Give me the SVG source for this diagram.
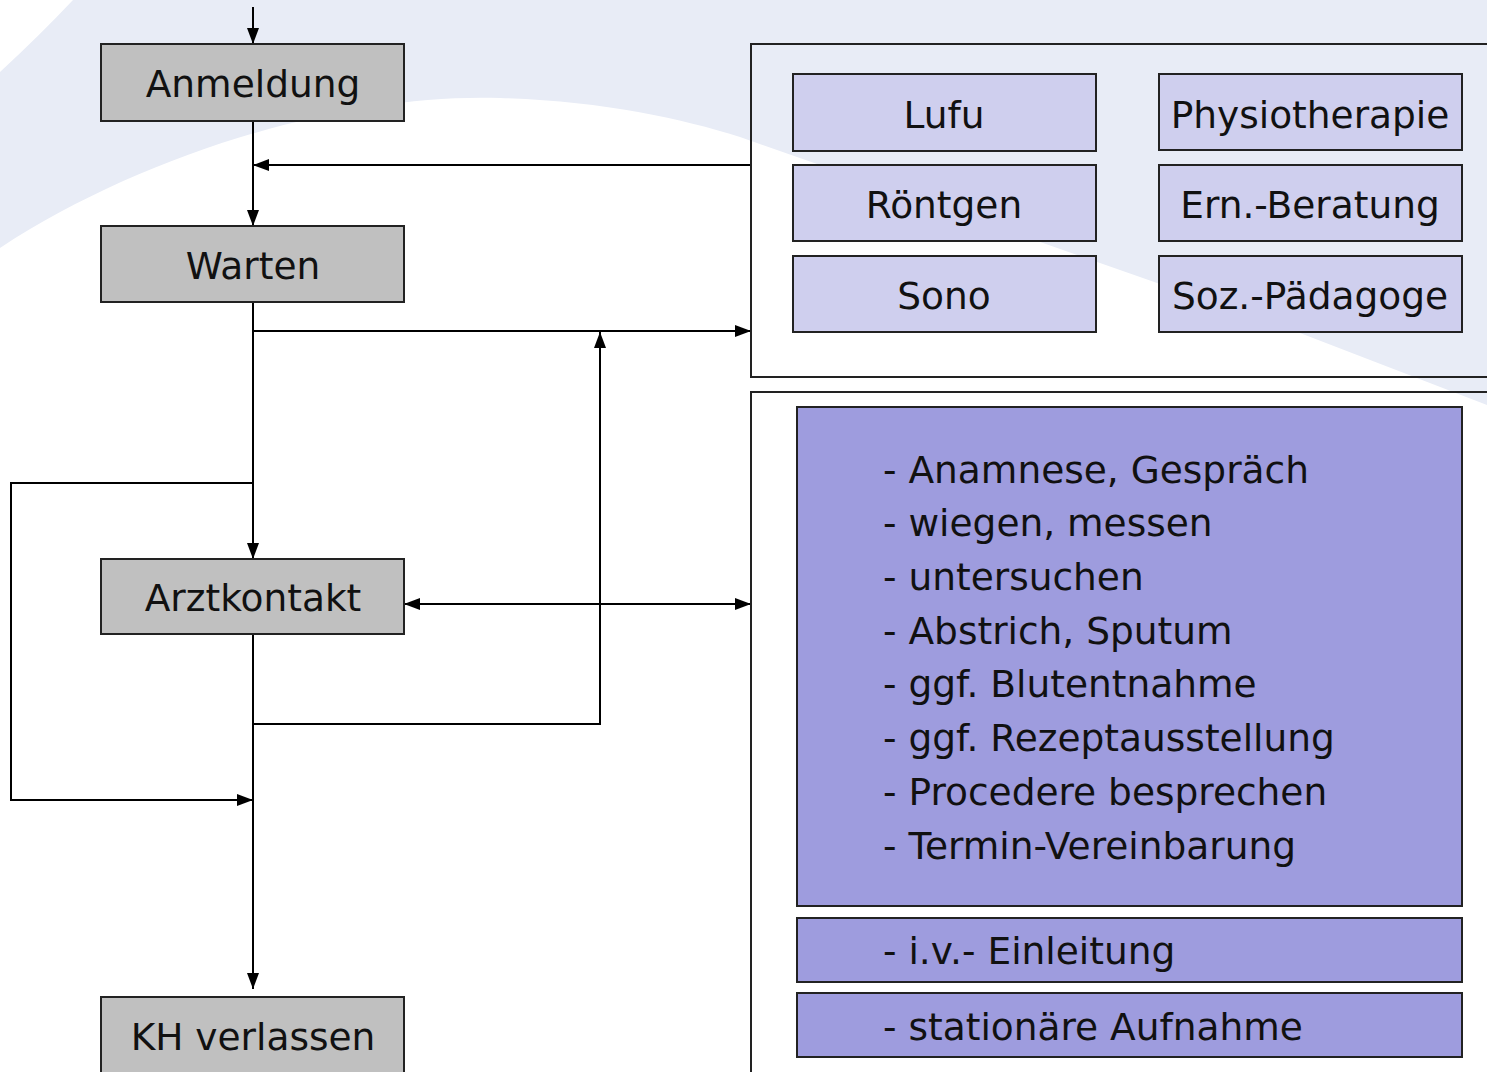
<svg xmlns="http://www.w3.org/2000/svg" width="1487" height="1072" viewBox="0 0 1487 1072">
<defs>
<style>
.t{font-family:"DejaVu Sans","Verdana",sans-serif;font-size:37.5px;fill:#111}
.c{text-anchor:middle}
.g{fill:#c0c0c0;stroke:#222;stroke-width:2}
.l{fill:#cfcfee;stroke:#222;stroke-width:2}
.d{fill:#9e9cde;stroke:#222;stroke-width:2}
.o{fill:none;stroke:#222;stroke-width:2}
.w{fill:none;stroke:#000;stroke-width:2}
</style>
<marker id="ah" viewBox="0 0 16 12" refX="16" refY="6" markerWidth="16" markerHeight="12" markerUnits="userSpaceOnUse" orient="auto-start-reverse">
<path d="M0,0 L16,6 L0,12 Z" fill="#000"/>
</marker>
</defs>
<rect width="1487" height="1072" fill="#fff"/>
<path d="M73,0 L1487,0 L1487,405 L1300,333 L740,137 C680,118 600,101 500,98 C350,93 150,150 0,248 L0,72 Q40,35 73,0 Z" fill="#e8ecf6"/>

<g id="connectors">
<path class="w" d="M253,7 V44" marker-end="url(#ah)"/>
<path class="w" d="M253,121 V226" marker-end="url(#ah)"/>
<path class="w" d="M751,165 H253" marker-end="url(#ah)"/>
<path class="w" d="M253,302 V559" marker-end="url(#ah)"/>
<path class="w" d="M253,331 H751" marker-end="url(#ah)"/>
<path class="w" d="M253,724 H600 V332" marker-end="url(#ah)"/>
<path class="w" d="M253,483 H11 V800 H253" marker-end="url(#ah)"/>
<path class="w" d="M404,604 H751" marker-start="url(#ah)" marker-end="url(#ah)"/>
<path class="w" d="M253,634 V989" marker-end="url(#ah)"/>
</g>

<g id="anmeldung"><rect class="g" x="101" y="44" width="303" height="77"/><text class="t c" x="253" y="97">Anmeldung</text></g>
<g id="warten"><rect class="g" x="101" y="226" width="303" height="76"/><text class="t c" x="253" y="279">Warten</text></g>
<g id="arztkontakt"><rect class="g" x="101" y="559" width="303" height="75"/><text class="t c" x="253" y="611">Arztkontakt</text></g>
<g id="kh-verlassen"><rect class="g" x="101" y="997" width="303" height="90"/><text class="t c" x="253" y="1050">KH verlassen</text></g>

<g id="services">
<rect class="o" x="751" y="44" width="760" height="333"/>
<g id="lufu"><rect class="l" x="793" y="74" width="303" height="77"/><text class="t c" x="944" y="128">Lufu</text></g>
<g id="physio"><rect class="l" x="1159" y="74" width="303" height="76"/><text class="t c" x="1310" y="128">Physiotherapie</text></g>
<g id="roentgen"><rect class="l" x="793" y="165" width="303" height="76"/><text class="t c" x="944" y="218">Röntgen</text></g>
<g id="ern"><rect class="l" x="1159" y="165" width="303" height="76"/><text class="t c" x="1310" y="218">Ern.-Beratung</text></g>
<g id="sono"><rect class="l" x="793" y="256" width="303" height="76"/><text class="t c" x="944" y="309">Sono</text></g>
<g id="soz"><rect class="l" x="1159" y="256" width="303" height="76"/><text class="t c" x="1310" y="309">Soz.-Pädagoge</text></g>
</g>

<g id="arzt-tasks">
<rect class="o" x="751" y="392" width="760" height="700"/>
<g id="list"><rect class="d" x="797" y="407" width="665" height="499"/>
<text class="t" x="883" y="483">- Anamnese, Gespräch</text>
<text class="t" x="883" y="536">- wiegen, messen</text>
<text class="t" x="883" y="590">- untersuchen</text>
<text class="t" x="883" y="644">- Abstrich, Sputum</text>
<text class="t" x="883" y="697">- ggf. Blutentnahme</text>
<text class="t" x="883" y="751">- ggf. Rezeptausstellung</text>
<text class="t" x="883" y="805">- Procedere besprechen</text>
<text class="t" x="883" y="859">- Termin-Vereinbarung</text>
</g>
<g id="iv"><rect class="d" x="797" y="918" width="665" height="64"/><text class="t" x="883" y="964">- i.v.- Einleitung</text></g>
<g id="stationaer"><rect class="d" x="797" y="993" width="665" height="64"/><text class="t" x="883" y="1040">- stationäre Aufnahme</text></g>
</g>
</svg>
